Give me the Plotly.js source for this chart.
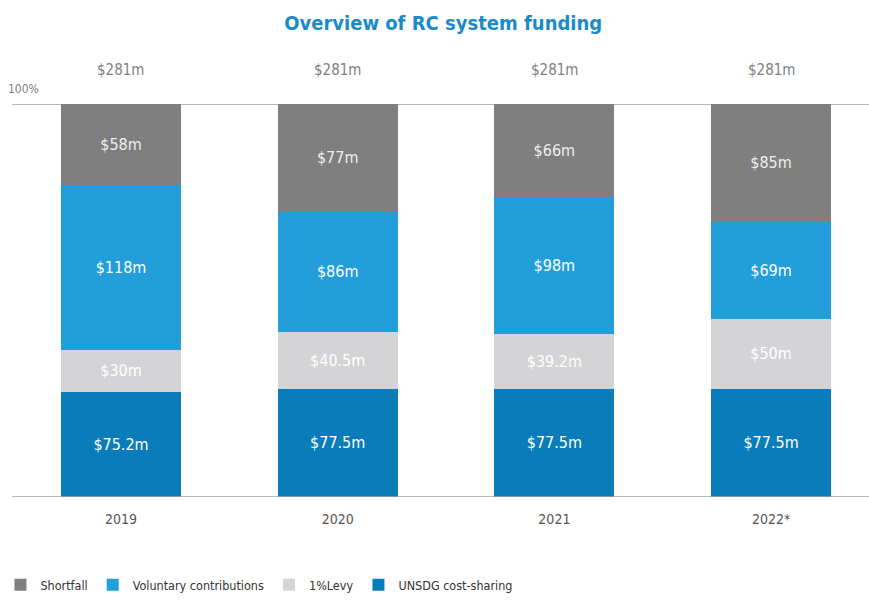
<!DOCTYPE html>
<html>
<head>
<meta charset="utf-8">
<script src="https://cdn.plot.ly/plotly-3.0.1.min.js"></script>
<style>html,body{margin:0;padding:0;background:#fff;}#chart{width:869px;height:615px;}</style>
</head>
<body>
<div id="chart"></div>
<script>
const years = ["2019", "2020", "2021", "2022*"];
const unsdg = [75.2, 77.5, 77.5, 77.5];
const levy = [30, 40.5, 39.2, 50];
const voluntary = [118, 86, 98, 69];
const shortfall = [58, 77, 66, 85];
const totals = [281, 281, 281, 281];

const fmt = v => "$" + v + "m";
const font = "'DejaVu Sans Condensed', Roboto, sans-serif";

function mk(name, vals, color, txtColor) {
  return {
    type: "bar", name: name, x: years, y: vals,
    marker: {color: color, line: {width: 0}},
    text: vals.map(fmt), textposition: "inside", insidetextanchor: "middle",
    textfont: {color: txtColor, size: 16, family: font},
    hoverinfo: "skip", constraintext: "none"
  };
}

const data = [
  mk("UNSDG cost-sharing", unsdg, "#0a7cba", "#ffffff"),
  mk("1%Levy", levy, "#d4d4d6", "#ffffff"),
  mk("Voluntary contributions", voluntary, "#229edb", "#ffffff"),
  mk("Shortfall", shortfall, "#7f7f7f", "#eeeeee")
];

const annotations = years.map((y, i) => ({
  x: i, y: 1, xref: "x", yref: "paper", yshift: 34, yanchor: "middle",
  text: fmt(totals[i]), showarrow: false,
  font: {color: "#808080", size: 15, family: font}
}));
annotations.push({
  x: 0, xref: "paper", y: 1, yref: "paper", xanchor: "left", yanchor: "middle", xshift: -6, yshift: 15,
  text: "100%", showarrow: false, font: {color: "#808080", size: 12, family: font}
});

const layout = {
  width: 869, height: 615,
  margin: {l: 12, r: 0, t: 104, b: 118},
  paper_bgcolor: "#fff", plot_bgcolor: "#fff",
  barmode: "stack", bargap: 0.446,
  title: {text: "<b>Overview of RC system funding</b>", x: 0.51, xanchor: "center", y: 0.963, yanchor: "middle",
          font: {color: "#1a8ac8", size: 20, family: font}},
  xaxis: {type: "category", range: [-0.503, 3.452], showgrid: false, zeroline: false, showline: false,
          ticks: "", ticklabelstandoff: 12, tickfont: {color: "#555", size: 14, family: font}, fixedrange: true},
  yaxis: {range: [0, 281], visible: false, fixedrange: true},
  shapes: [
    {type: "line", xref: "paper", yref: "y", x0: 0, x1: 1, y0: 281, y1: 281, line: {color: "#a0a0a0", width: 1.5}, layer: "below"},
    {type: "line", xref: "paper", yref: "y", x0: 0, x1: 1, y0: 0, y1: 0, line: {color: "#a0a0a0", width: 1.5}, layer: "above"}
  ],
  annotations: annotations,
  showlegend: true,
  legend: {orientation: "h", traceorder: "reversed", x: -0.0135, xanchor: "left", y: -0.224, yanchor: "middle",
           font: {color: "#333", size: 12.5, family: font}, itemwidth: 30},
  uniformtext: {mode: false}
};

Plotly.newPlot("chart", data, layout, {displayModeBar: false, staticPlot: true});
</script>
</body>
</html>
